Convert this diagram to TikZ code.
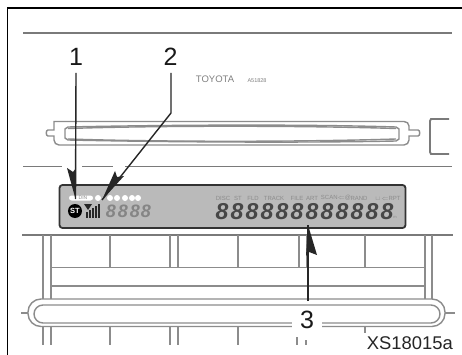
\documentclass[tikz,border=0pt]{standalone}
\usepackage{fontspec}
\setmainfont{Liberation Sans}
\tikzset{
 gl/.style={draw=black!52,line width=1.9pt},
 gl2/.style={draw=black!45,line width=1.4pt},
 leader/.style={draw=black!85,line width=1.4pt},
 head/.style={fill=black!85,draw=none},
 num/.style={font=\fontsize{25}{25}\selectfont,text=black!90,inner sep=0pt},
 seg/.style={font=\fontsize{23}{23}\selectfont\bfseries\itshape,text=black!72,inner sep=0pt},
 segs/.style={font=\fontsize{18}{18}\selectfont\bfseries\itshape,text=black!48,inner sep=0pt},
 tag/.style={font=\fontsize{6}{6}\selectfont,text=black!45,inner sep=0pt},
 dot/.style={circle,fill=white,draw=none,inner sep=0pt,minimum size=6pt},
}
\begin{document}
\begin{tikzpicture}[x=1pt,y=-1pt]
\useasboundingbox (0,0) rectangle (462,355);
\fill[white] (0,0) rectangle (462,355);
% frame
\draw[black,line width=1.3pt] (7.5,355) -- (7.5,8) -- (462,8);
% top panel
\draw[gl] (23,33) -- (452,33);
\draw[gl] (23,166.5) -- (62,166.5) (82,166.5) -- (113,166.5) (125,166.5) -- (452,166.5);
\draw[gl2] (54,126) -- (54,121.5) -- (404,121.5) to[out=0,in=90] (409,126) -- (409,130) -- (418,130) to[out=0,in=0] (418,136) -- (409,136) -- (409,140) to[out=-90,in=0] (404,145) -- (59,145) to[out=180,in=-90] (54,140) -- (54,136) -- (48,136) to[out=180,in=180] (48,130) -- (54,130) -- (54,126);
\draw[gl2] (68,127) .. controls (160,125) and (300,124) .. (396,127) -- (399,129) -- (399,139) -- (396,141) .. controls (300,143) and (160,142) .. (68,140) -- (65,138) -- (65,129) -- cycle;
\draw[gl2] (68,128.5) .. controls (160,125.5) and (300,125.5) .. (396,128.5);
\draw[gl2] (68,139) .. controls (160,142) and (300,142) .. (396,139);
\draw[gl] (449,119) -- (431,119) -- (430,121) -- (430,152) -- (431,154) -- (449,154);
\node[font=\fontsize{9.5}{9.5}\selectfont,text=black!50,inner sep=0pt] (toyota) at (215,79) {TOYOTA};
\node[font=\fontsize{5.5}{5.5}\selectfont,text=black!50,inner sep=0pt] (model) at (257,81) {A51828};
% display
\draw[fill=black!27,draw=black!80,line width=1.8pt,rounded corners=3pt] (59.5,185) rectangle (405.5,228);
\node[dot,minimum size=5pt,minimum width=24pt,rounded corners=2.5pt,rectangle] (din) at (81,198) {};
\node[font=\fontsize{5}{5}\selectfont,text=black!45,inner sep=0pt] (dintext) at (83,198) {DIN};
\foreach \x/\n in {98/a,110/b,117/c,125/d,132/e,138/f} \node[dot] (d\n) at (\x,198) {};
\node[circle,fill=black,inner sep=0pt,minimum size=14pt,text=white,font=\fontsize{7.5}{7.5}\selectfont\bfseries] (st) at (75,211) {ST};
\fill[black!85] (84,204) -- (92,204) -- (88,210) -- cycle;
\foreach \x/\t in {87/212,90/210,93/208,96/206,99/204} \fill[black!85] (\x-1,\t) rectangle (\x+.9,218);
\foreach \x/\n in {111/a,123/b,135/c,146/d} \node[segs] (s\n) at (\x,211) {8};
\foreach \i in {0,...,11} \node[seg] (b\i) at (222+15*\i,212) {8};
\node[tag] (tdisc) at (223,198) {DISC};
\node[tag] (tst) at (238,198) {ST};
\node[tag] (tfld) at (253,198) {FLD};
\node[tag] (ttrack) at (274,198) {TRACK};
\node[tag] (tfile) at (297,198) {FILE};
\node[tag] (tart) at (312,198) {ART};
\node[tag] (tscan) at (336,198) {SCAN$\Leftarrow$@};
\node[tag] (trand) at (359,198) {RAND};
\node[tag] (trpt) at (388,198) {$\sqcup\!\Leftarrow$RPT};
\node[tag,font=\fontsize{4}{4}\selectfont] (tm) at (395,217) {m};
% lower panel
\draw[gl] (22,235) -- (453,235);
\foreach \x in {43,51,425,432} \draw[gl2] (\x,235) -- (\x,299);
\foreach \x in {110,170,178,238,299,307,365} \draw[gl2] (\x,235) -- (\x,267);
\draw[gl2] (51,267.5) -- (425,267.5);
\draw[gl2] (51,286) -- (425,286);
\draw[gl2,rounded corners=13pt] (28,299) rectangle (445,326.5);
\draw[gl2,rounded corners=9pt] (34,305) rectangle (440,323);
\draw[gl2] (21,313) -- (28,313) (445,313) -- (455,313);
\foreach \x in {43,51,110,170,178,238} \draw[gl2] (\x,327) -- (\x,345);
\draw[gl2] (365,327) -- (365,333);
\draw[gl2] (297,337) -- (297,345) (306,340) -- (306,345);
% labels and leaders
\node[num] (n1) at (76,57) {1};
\node[num] (n2) at (170.5,57) {2};
\node[num,fill=white,inner xsep=8pt,inner ysep=3pt] (n3) at (307,320) {3};
\coordinate (t1) at (75.5,199);
\coordinate (b2) at (171,113);
\coordinate (t2) at (102,200);
\coordinate (t3) at (308,225);
\draw[leader] (76,73) -- (t1);
\draw[leader] (171,73) -- (b2) -- (t2);
\draw[leader] (308,301) -- (t3);
\fill[head] (t1) -- (67,168) -- (73,172) -- (76,168) -- cycle;
\fill[head] (t2) -- (115,171) -- (117,177) -- (124,176) -- cycle;
\fill[head] (t3) -- (317,255) -- (309,252) -- (306,256) -- cycle;
\node[font=\fontsize{18.4}{18.4}\selectfont,text=black!85,inner sep=0pt,anchor=east] (code) at (453,343) {XS18015a};
\end{tikzpicture}
\end{document}
